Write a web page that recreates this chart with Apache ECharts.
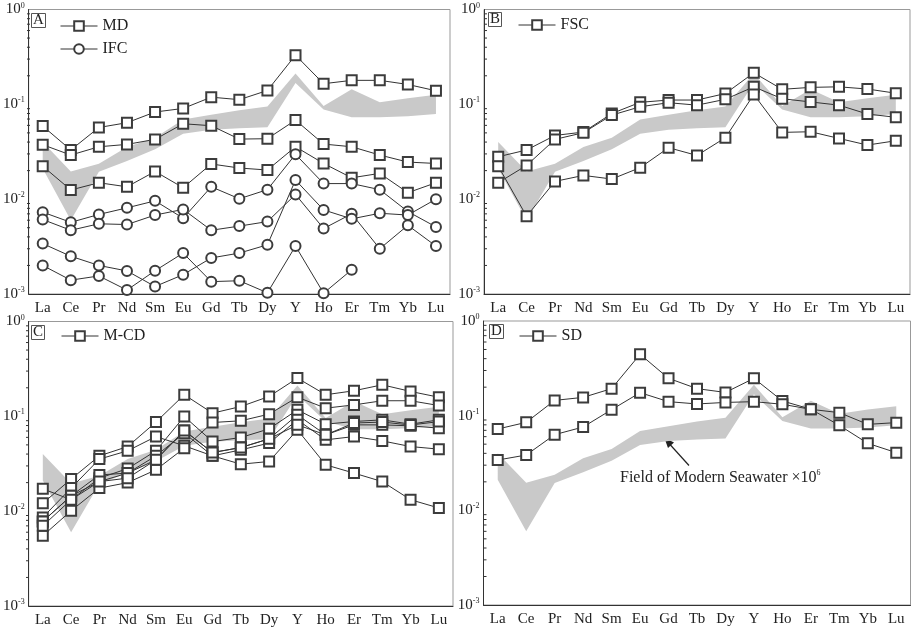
<!DOCTYPE html>
<html>
<head>
<meta charset="utf-8">
<script src="https://cdn.jsdelivr.net/npm/echarts@6/dist/echarts.min.js"></script>
<style>
  html, body { margin: 0; padding: 0; background: #fff; }
  #main { width: 913px; height: 631px; }
</style>
</head>
<body>
<div id="main"></div>
<script>
// REE + Y, normalised values
const elements = ['La', 'Ce', 'Pr', 'Nd', 'Sm', 'Eu', 'Gd', 'Tb', 'Dy', 'Y', 'Ho', 'Er', 'Tm', 'Yb', 'Lu'];

// log axis tick values
const minorTicks = [0.002, 0.003, 0.004, 0.005, 0.006, 0.007, 0.008, 0.009,
                    0.02, 0.03, 0.04, 0.05, 0.06, 0.07, 0.08, 0.09,
                    0.2, 0.3, 0.4, 0.5, 0.6, 0.7, 0.8, 0.9];

// field of modern seawater x10^6 (upper / lower edge)
const seaUpper = [0.040, 0.0196, 0.0237, 0.0355, 0.0445, 0.069, 0.0775, 0.0867, 0.095, 0.212, 0.096, 0.144, 0.105, 0.116, 0.126];
const seaLower = [0.021, 0.0060, 0.0194, 0.0252, 0.0335, 0.049, 0.054, 0.056, 0.0574, 0.168, 0.088, 0.073, 0.073, 0.0748, 0.079];

// A: MD
const md1 = [0.059, 0.033, 0.057, 0.064, 0.083, 0.0905, 0.119, 0.112, 0.140, 0.330, 0.165, 0.179, 0.179, 0.162, 0.139];
const md2 = [0.0375, 0.0292, 0.0357, 0.0378, 0.0427, 0.0624, 0.0595, 0.0430, 0.0434, 0.0682, 0.0381, 0.0357, 0.0292, 0.0246, 0.0238];
const md3 = [0.0223, 0.0125, 0.0149, 0.0135, 0.0196, 0.0132, 0.0235, 0.0213, 0.0203, 0.0357, 0.0238, 0.0168, 0.0187, 0.0117, 0.0149];
// A: IFC
const ifc1 = [0.0073, 0.0057, 0.0069, 0.0081, 0.0096, 0.0063, 0.0135, 0.0101, 0.0126, 0.0297, 0.0146, 0.0146, 0.0126, 0.0074, 0.0051];
const ifc2 = [0.0061, 0.0047, 0.0055, 0.0054, 0.0068, 0.0078, 0.0047, 0.0052, 0.0058, 0.0112, 0.0049, 0.0070, 0.0030, 0.0053, 0.0032];
const ifc3 = [0.0034, 0.0025, 0.0020, 0.00175, 0.0012, 0.0016, 0.0024, 0.0027, 0.0033, 0.0159, 0.0077, 0.0062, 0.0071, 0.0068, 0.0100];
const ifc4 = [0.0020, 0.0014, 0.00155, 0.0011, 0.00176, 0.0027, 0.00135, 0.00138, 0.00103, 0.0032, 0.00102, 0.0018, null, null, null];

// B: FSC
const fsc1 = [0.028, 0.033, 0.047, 0.051, 0.080, 0.105, 0.111, 0.111, 0.130, 0.215, 0.144, 0.151, 0.153, 0.145, 0.131];
const fsc2 = [0.0149, 0.0227, 0.0427, 0.0502, 0.077, 0.0943, 0.104, 0.098, 0.113, 0.153, 0.1145, 0.106, 0.098, 0.079, 0.073];
const fsc3 = [0.0223, 0.0066, 0.0154, 0.0178, 0.0163, 0.0215, 0.0349, 0.0289, 0.0445, 0.127, 0.0506, 0.0514, 0.0437, 0.0372, 0.0413];

// C: M-CD
const mcd1 = [0.0121, 0.0218, 0.0383, 0.048, 0.087, 0.169, 0.108, 0.127, 0.162, 0.253, 0.169, 0.186, 0.215, 0.183, 0.159];
const mcd2 = [0.0086, 0.0175, 0.0354, 0.0433, 0.0612, 0.0489, 0.0383, 0.0313, 0.0334, 0.0721, 0.0308, 0.0252, 0.0205, 0.0132, 0.0108];
const mcd3 = [0.0172, 0.0132, 0.0223, 0.0281, 0.0433, 0.0995, 0.0542, 0.0598, 0.0738, 0.117, 0.0827, 0.0882, 0.0918, 0.0827, 0.0918];
const mcd4 = [0.0078, 0.0145, 0.0205, 0.0252, 0.0348, 0.0708, 0.0415, 0.0469, 0.0579, 0.1037, 0.0638, 0.0813, 0.0813, 0.0794, 0.0751];
const mcd5 = [0.0055, 0.0101, 0.0175, 0.0200, 0.0273, 0.0462, 0.0861, 0.0897, 0.1055, 0.159, 0.122, 0.132, 0.146, 0.146, 0.130];
const mcd6 = [0.0078, 0.0145, 0.0241, 0.0252, 0.0383, 0.0665, 0.0383, 0.0443, 0.0522, 0.0918, 0.0565, 0.0612, 0.0551, 0.048, 0.0451];
const mcd7 = [0.0070, 0.0132, 0.0205, 0.0223, 0.0348, 0.0708, 0.0415, 0.0469, 0.0579, 0.0813, 0.0638, 0.085, 0.087, 0.081, 0.088];

// D: SD
const sd1 = [0.0723, 0.085, 0.145, 0.156, 0.193, 0.445, 0.248, 0.193, 0.176, 0.248, 0.143, 0.117, 0.079, 0.051, 0.0407];
const sd2 = [0.034, 0.0384, 0.063, 0.0759, 0.1157, 0.175, 0.1406, 0.133, 0.138, 0.1406, 0.132, 0.1167, 0.1076, 0.081, 0.0844];

const FONT = 'Liberation Serif';
const INK = '#333';

const grids = [
    { left: 27, top: 9.5, width: 423, height: 284.5 },
    { left: 484, top: 9.5, width: 426, height: 284.5 },
    { left: 26, top: 321.5, width: 427, height: 284.5 },
    { left: 483.5, top: 321, width: 427, height: 284 }
];

const xAxes = grids.map((g, k) => ({
    type: 'category', gridIndex: k, data: elements, boundaryGap: true,
    axisLine: { lineStyle: { color: INK } },
    axisTick: { inside: true, alignWithLabel: true, length: 3, lineStyle: { color: INK } },
    axisLabel: { margin: 7, fontFamily: FONT, fontSize: 15, color: '#222' },
    splitLine: { show: false }
}));

const yAxes = grids.map((g, k) => ({
    type: 'log', logBase: 10, gridIndex: k, min: 0.001, max: 1,
    axisLine: { show: true, lineStyle: { color: INK } },
    axisTick: { inside: true, length: 5, lineStyle: { color: INK } },
    axisLabel: {
        margin: 4, color: '#222',
        formatter: v => '{b|10}{s|' + Math.round(Math.log10(v)) + '}',
        rich: {
            b: { fontFamily: FONT, fontSize: 15, color: '#222', lineHeight: 16 },
            s: { fontFamily: FONT, fontSize: 8, color: '#222', verticalAlign: 'top', lineHeight: 16, padding: [0, 0, 9, 0] }
        }
    },
    splitLine: { show: false },
    minorTick: { show: false }
}));

function band(k) {
    return {
        type: 'custom', xAxisIndex: k, yAxisIndex: k, silent: true, z: 1,
        data: [[0, seaUpper[0]]],
        renderItem: function (params, api) {
            const pts = [];
            seaUpper.forEach((v, i) => pts.push(api.coord([i, v])));
            for (let i = seaLower.length - 1; i >= 0; i--) pts.push(api.coord([i, seaLower[i]]));
            return { type: 'polygon', shape: { points: pts }, style: { fill: '#c9c9c9' } };
        }
    };
}

function line(name, data, k, symbol) {
    return {
        name: name, type: 'line', xAxisIndex: k, yAxisIndex: k, data: data, z: 3,
        symbol: symbol, symbolSize: 10, connectNulls: false,
        lineStyle: { color: INK, width: 1 },
        itemStyle: { color: '#3c3c3c', borderColor: '#3c3c3c', borderWidth: 0.8 },
        emphasis: { disabled: true },
        animation: false
    };
}

const series = [
    band(0), band(1), band(2), band(3),
    line('MD', md1, 0, 'emptyRect'), line('MD', md2, 0, 'emptyRect'), line('MD', md3, 0, 'emptyRect'),
    line('IFC', ifc1, 0, 'emptyCircle'), line('IFC', ifc2, 0, 'emptyCircle'),
    line('IFC', ifc3, 0, 'emptyCircle'), line('IFC', ifc4, 0, 'emptyCircle'),
    line('FSC', fsc1, 1, 'emptyRect'), line('FSC', fsc2, 1, 'emptyRect'), line('FSC', fsc3, 1, 'emptyRect'),
    line('M-CD', mcd1, 2, 'emptyRect'), line('M-CD', mcd2, 2, 'emptyRect'), line('M-CD', mcd3, 2, 'emptyRect'),
    line('M-CD', mcd4, 2, 'emptyRect'), line('M-CD', mcd5, 2, 'emptyRect'), line('M-CD', mcd6, 2, 'emptyRect'),
    line('M-CD', mcd7, 2, 'emptyRect'),
    line('SD', sd1, 3, 'emptyRect'), line('SD', sd2, 3, 'emptyRect')
];

function legendAt(names, left, top) {
    return {
        data: names, orient: 'vertical', left: left, top: top,
        itemWidth: 37, itemHeight: 12, itemGap: 7, selectedMode: false,
        lineStyle: { width: 1 },
        itemStyle: { borderWidth: 0.8 },
        textStyle: { fontFamily: FONT, fontSize: 16, color: '#222' }
    };
}

function letter(t, left, top) {
    return {
        text: t, left: left, top: top, padding: [0, 2, 0, 2],
        borderColor: '#555', borderWidth: 1,
        textStyle: { fontFamily: FONT, fontSize: 15, fontWeight: 'normal', color: '#222', lineHeight: 15 }
    };
}

const chart = echarts.init(document.getElementById('main'));
chart.setOption({
    backgroundColor: '#fff',
    animation: false,
    title: [letter('A', 31, 13), letter('B', 488, 12), letter('C', 31, 325), letter('D', 489, 324)],
    legend: [legendAt(['MD', 'IFC'], 55, 13), legendAt(['FSC'], 513, 12), legendAt(['M-CD'], 56, 323), legendAt(['SD'], 514, 323)],
    grid: grids.map(g => Object.assign({ show: true, borderColor: '#999', borderWidth: 1, containLabel: false }, g)),
    xAxis: xAxes,
    yAxis: yAxes,
    series: series
});

// minor log ticks + annotation of panel D
const extras = [];
grids.forEach((g, k) => {
    minorTicks.forEach(v => {
        const y = chart.convertToPixel({ yAxisIndex: k }, v);
        extras.push({ type: 'line', silent: true, shape: { x1: g.left, y1: y, x2: g.left + 3, y2: y }, style: { stroke: INK, lineWidth: 1 } });
    });
});
extras.push({
    type: 'text', left: 620, top: 469, silent: true,
    style: {
        text: 'Field of Modern Seawater \u00d710{s|6}',
        font: '16px "Liberation Serif"', fill: '#222',
        rich: { s: { fontFamily: FONT, fontSize: 8, verticalAlign: 'top', padding: [0, 0, 9, 0] } }
    }
});
extras.push({ type: 'line', silent: true, shape: { x1: 689, y1: 465.5, x2: 670, y2: 444.5 }, style: { stroke: '#222', lineWidth: 1.2 } });
extras.push({ type: 'polygon', silent: true, shape: { points: [[664.3, 437.7], [674, 442.5], [668, 447.9]] }, style: { fill: '#222' } });
chart.setOption({ graphic: extras });
</script>
</body>
</html>
